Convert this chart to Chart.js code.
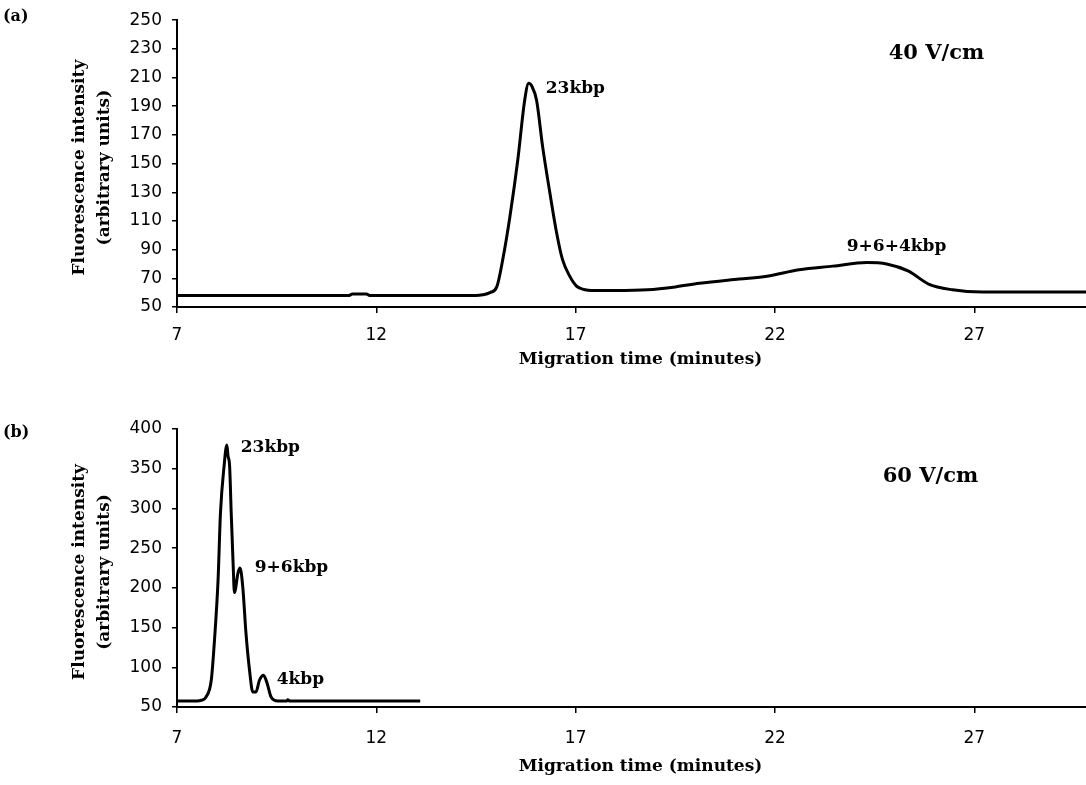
<!DOCTYPE html>
<html lang="en">
<head>
  <meta charset="UTF-8">
  <title>Migration time traces</title>
  <script src="https://cdn.jsdelivr.net/npm/chart.js"></script>
  <style>
    body {
      margin: 0;
      background-color: white;
      width: 1086px;
      height: 785px;
      overflow: hidden;
    }
    #wrapA {
      position: absolute;
      left: 0;
      top: 0;
      width: 1086px;
      height: 395px;
    }
    #wrapB {
      position: absolute;
      left: 0;
      top: 395px;
      width: 1086px;
      height: 390px;
    }
  </style>
</head>
<body>
<div id="wrapA"><canvas id="chartA"></canvas></div>
<div id="wrapB"><canvas id="chartB"></canvas></div>
<script>
  // (a) 40 V/cm trace
  const timeA = [7, 11.3, 11.4, 11.75, 11.85, 14.5, 14.67, 14.85, 15.02, 15.17, 15.35, 15.55, 15.72, 15.82, 15.9,
    16.02, 16.17, 16.35, 16.52, 16.67, 16.85, 17.02, 17.17, 17.5, 18.0, 18.8, 19.5, 20.1, 21.1, 21.8,
    22.6, 23.45, 24.3, 24.8, 25.35, 25.85, 26.45, 27.2, 29.8];
  const intensityA = [58, 58, 59, 59, 58, 58, 58.5, 60, 64, 83, 113, 153, 194, 206, 204,
    194, 162, 130, 102, 83, 71.5, 64.6, 62.5, 61.5, 61.5, 62, 64, 66.5, 69.5, 71.5,
    76, 78.5, 81, 80, 75, 66, 62, 60.4, 60.5];

  // (b) 60 V/cm trace
  const timeB = [7, 7.5, 7.61, 7.72, 7.86, 7.94, 8.03, 8.09, 8.18, 8.25, 8.28, 8.32, 8.36, 8.41, 8.44,
    8.53, 8.58, 8.65, 8.73, 8.82, 8.9, 8.98, 9.07, 9.17, 9.26, 9.36, 9.53, 9.75, 9.78, 9.82, 13.1];
  const intensityB = [57.6, 57.6, 58.5, 62, 84, 134, 210, 294, 353, 380, 366, 353, 294, 227, 194,
    219, 225, 201, 143, 96, 69, 69, 84, 90, 80, 62.6, 57.6, 57.6, 59, 57.6, 57.6];

  const xTicks = [7, 12, 17, 22, 27];
  const yTicksA = [50, 70, 90, 110, 130, 150, 170, 190, 210, 230, 250];
  const yTicksB = [50, 100, 150, 200, 250, 300, 350, 400];

  // peak labels: text, minutes, intensity (left edge / middle)
  const labelsA = [['23kbp', 16.25, 202], ['9+6+4kbp', 23.8, 92]];
  const labelsB = [['23kbp', 8.6, 377], ['9+6kbp', 8.95, 225], ['4kbp', 9.5, 85]];

  const tickFont = { family: 'DejaVu Sans', size: 17 };
  const boldFont = 'bold 17px "DejaVu Serif"';

  const textPlugin = {
    id: 'texts',
    afterDraw(chart, args, opts) {
      const ctx = chart.ctx;
      const area = chart.chartArea;
      const xs = chart.scales.x;
      const ys = chart.scales.y;
      ctx.save();
      ctx.fillStyle = 'black';
      ctx.font = boldFont;
      ctx.textAlign = 'left';
      ctx.textBaseline = 'middle';
      opts.peaks.forEach(p => {
        ctx.fillText(p[0], xs.getPixelForValue(p[1]), ys.getPixelForValue(p[2]));
      });
      ctx.font = 'bold 21px "DejaVu Serif"';
      ctx.fillText(opts.field[0], xs.getPixelForValue(opts.field[1]), ys.getPixelForValue(opts.field[2]));

      // panel letter
      ctx.font = 'bold 16px "DejaVu Serif"';
      ctx.fillText(opts.panel, 3, opts.panelY);

      // x title
      ctx.font = boldFont;
      ctx.textAlign = 'center';
      ctx.fillText('Migration time (minutes)', (area.left + area.right) / 2 + 9, area.bottom + opts.xTitleGap);

      // y title, two rotated lines
      const cy = (area.top + area.bottom) / 2 + 4;
      ctx.translate(80, cy);
      ctx.rotate(-Math.PI / 2);
      ctx.fillText('Fluorescence intensity', 0, 0);
      ctx.fillText('(arbitrary units)', 0, 25);
      ctx.restore();
    }
  };

  function makeChart(id, times, values, yMin, yMax, yTicks, topPad, xHeight, tickPad, extra) {
    const ctx = document.getElementById(id).getContext('2d');
    return new Chart(ctx, {
      type: 'line',
      data: {
        datasets: [{
          data: times.map((t, i) => ({ x: t, y: values[i] })),
          borderColor: 'black',
          borderWidth: 3,
          pointRadius: 0,
          cubicInterpolationMode: 'monotone',
          fill: false
        }]
      },
      options: {
        responsive: true,
        maintainAspectRatio: false,
        animation: false,
        layout: { padding: { top: topPad, left: 0, right: 0, bottom: 0 } },
        plugins: {
          legend: { display: false },
          tooltip: { enabled: false },
          texts: extra
        },
        scales: {
          x: {
            type: 'linear',
            min: 7,
            max: 29.8,
            afterBuildTicks: scale => { scale.ticks = xTicks.map(v => ({ value: v })); },
            afterFit: scale => { scale.height = xHeight; },
            ticks: { color: 'black', font: tickFont, padding: tickPad, maxRotation: 0 },
            grid: { drawOnChartArea: false, drawTicks: true, tickLength: 6, color: 'black', lineWidth: 1.5 },
            border: { color: 'black', width: 2 }
          },
          y: {
            min: yMin,
            max: yMax,
            afterBuildTicks: scale => { scale.ticks = yTicks.map(v => ({ value: v })); },
            afterFit: scale => { scale.width = 177; },
            ticks: { color: 'black', font: tickFont, padding: 10 },
            grid: { drawOnChartArea: false, drawTicks: true, tickLength: 5, color: 'black', lineWidth: 1.5 },
            border: { color: 'black', width: 2 }
          }
        }
      },
      plugins: [textPlugin]
    });
  }

  makeChart('chartA', timeA, intensityA, 50, 250, yTicksA, 20, 88, 12, {
    peaks: labelsA,
    field: ['40 V/cm', 24.85, 227],
    panel: '(a)',
    panelY: 17,
    xTitleGap: 53
  });

  makeChart('chartB', timeB, intensityB, 50, 400, yTicksB, 34, 78, 15, {
    peaks: labelsB,
    field: ['60 V/cm', 24.7, 340],
    panel: '(b)',
    panelY: 38,
    xTitleGap: 60
  });
</script>
</body>
</html>
